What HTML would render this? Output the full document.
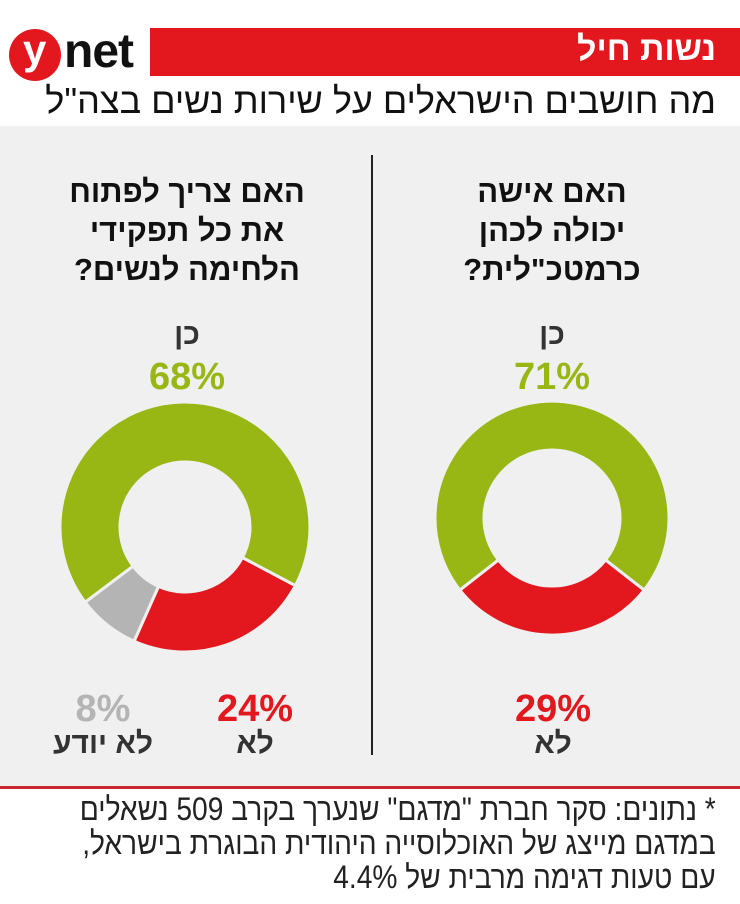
<!DOCTYPE html>
<html><head><meta charset="utf-8"><style>
body{margin:0;width:740px;height:904px;background:#fff;position:relative;overflow:hidden;font-family:"Liberation Sans Narrow","Liberation Sans",sans-serif;}
.a{position:absolute;white-space:nowrap;}
.c{transform:translateX(-50%);text-align:center;}
.q{font-weight:bold;font-size:31px;line-height:39px;color:#111;}
.b{font-weight:bold;font-size:30px;color:#333;}
.p{font-weight:bold;font-size:38px;font-family:"Liberation Sans",sans-serif;}
</style></head><body>
<div class="a" style="left:150px;top:28px;width:590px;height:48px;background:#e3181f;"></div>
<div class="a" dir="rtl" style="right:24px;top:30px;color:#fff;font-weight:bold;font-size:34px;">נשות חיל</div>
<div class="a" style="left:9px;top:29px;width:52px;height:52px;border-radius:50%;background:#e3181f;"></div>
<div class="a" style="left:23px;top:26px;color:#fff;font-weight:bold;font-size:42px;">y</div>
<div class="a" style="left:64px;top:24px;color:#111;font-weight:bold;font-size:48px;letter-spacing:-1px;">net</div>
<div class="a" dir="rtl" style="right:24px;top:80px;color:#111;font-size:36px;">מה חושבים הישראלים על שירות נשים בצה"ל</div>
<div class="a" style="left:0;top:126px;width:740px;height:660px;background:#f0f0f0;"></div>
<div class="a" style="left:0;top:786px;width:740px;height:3px;background:#c8282d;"></div>
<div class="a" style="left:371px;top:155px;width:2px;height:600px;background:#222;"></div>

<div class="a c q" dir="rtl" style="left:552px;top:172px;">האם אישה<br>יכולה לכהן<br>כרמטכ"לית?</div>
<div class="a c q" dir="rtl" style="left:187px;top:172px;">האם צריך לפתוח<br>את כל תפקידי<br>הלחימה לנשים?</div>

<div class="a c b" style="left:552px;top:318px;">כן</div>
<div class="a c p" style="left:552px;top:356px;color:#98b715;">71%</div>
<div class="a c b" style="left:187px;top:318px;">כן</div>
<div class="a c p" style="left:187px;top:356px;color:#98b715;">68%</div>

<svg class="a" style="left:0;top:0" width="740" height="904" viewBox="0 0 740 904">
<g stroke="#f0f0f0" stroke-width="3" stroke-linejoin="miter">
<path d="M644.2 590.1 A117 117 0 0 1 459.8 590.1 L498.4 559.9 A68 68 0 0 0 605.6 559.9 Z" fill="#e3181f"/>
<path d="M459.8 590.1 A117 117 0 1 1 644.2 590.1 L605.6 559.9 A68 68 0 1 0 498.4 559.9 Z" fill="#98b715"/>
<path d="M295.4 585.6 A125 125 0 0 1 134.1 641.2 L158.5 586.4 A65 65 0 0 0 242.4 557.5 Z" fill="#e3181f"/>
<path d="M134.1 641.2 A125 125 0 0 1 85.1 602.2 L133.1 566.1 A65 65 0 0 0 158.5 586.4 Z" fill="#b4b4b4"/>
<path d="M85.1 602.2 A125 125 0 1 1 295.4 585.6 L242.4 557.5 A65 65 0 1 0 133.1 566.1 Z" fill="#98b715"/>
</g>
</svg>

<div class="a c p" style="left:553px;top:688px;color:#e3181f;">29%</div>
<div class="a c b" style="left:553px;top:727px;">לא</div>
<div class="a c p" style="left:255px;top:688px;color:#e3181f;">24%</div>
<div class="a c b" style="left:255px;top:727px;">לא</div>
<div class="a c p" style="left:103px;top:688px;color:#b4b4b4;">8%</div>
<div class="a c b" dir="rtl" style="left:103px;top:727px;">לא יודע</div>

<div class="a" dir="rtl" style="right:24px;top:792px;color:#222;font-size:32px;line-height:34px;text-align:right;transform:scaleX(0.88);transform-origin:right top;">* נתונים: סקר חברת "מדגם" שנערך בקרב 509 נשאלים<br>במדגם מייצג של האוכלוסייה היהודית הבוגרת בישראל,<br>עם טעות דגימה מרבית של 4.4%</div>
</body></html>
